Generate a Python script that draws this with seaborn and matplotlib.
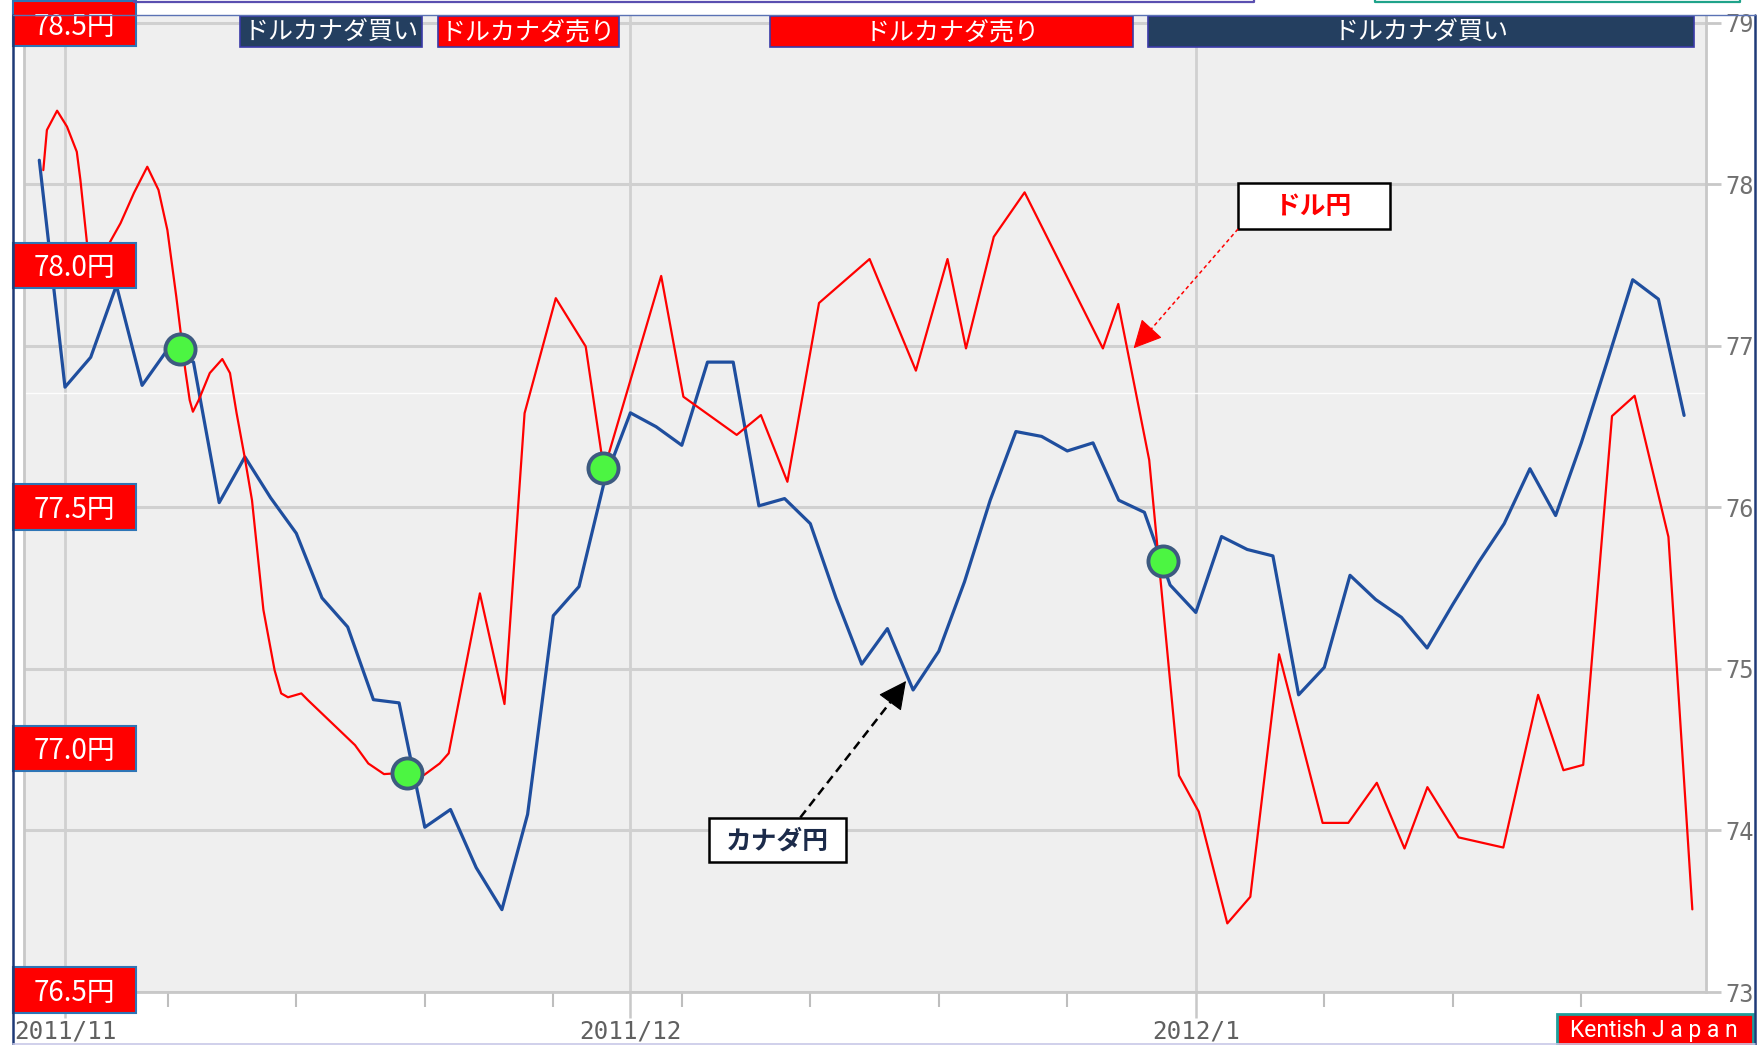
import numpy as np
import pandas as pd
import matplotlib
matplotlib.use("Agg")
import matplotlib.pyplot as plt
import matplotlib.transforms as mtransforms
from matplotlib.patches import Rectangle, FancyArrowPatch
from matplotlib.lines import Line2D
import seaborn as sns

# ---------------- data ----------------
# x = trading-day index (0 = 2011/11/01, 22 = 2011/12/01, 44 = 2012/01/02)
cad_x = list(range(-1, 64))
cad_jpy = [78.15, 76.745, 76.93, 77.375, 76.756, 76.98, 76.90, 76.03, 76.313, 76.06,
           75.84, 75.44, 75.26, 74.81, 74.79, 74.02, 74.13, 73.77, 73.51, 74.10,
           75.33, 75.51, 76.17, 76.586, 76.50, 76.385, 76.90, 76.90, 76.01, 76.055,
           75.90, 75.44, 75.03, 75.25, 74.87, 75.11, 75.54, 76.045, 76.47, 76.44,
           76.35, 76.40, 76.045, 75.97, 75.52, 75.35, 75.82, 75.74, 75.70, 74.84,
           75.01, 75.58, 75.43, 75.32, 75.13, 75.40, 75.66, 75.90, 76.24, 75.95,
           76.40, 76.90, 77.41, 77.29, 76.57]

usd_x = [-0.844, -0.704, -0.307, 0.078, 0.459, 0.599, 0.856, 1.245, 1.728, 2.160,
         2.685, 3.202, 3.638, 3.984, 4.331, 4.506, 4.681, 4.852, 4.977, 5.202,
         5.634, 6.121, 6.420, 6.677, 6.988, 7.276, 7.720, 8.156, 8.412, 8.677,
         9.195, 9.455, 11.284, 11.802, 12.412, 13.307, 13.969, 14.580, 14.930, 16.144,
         17.101, 17.883, 19.097, 20.261, 20.97, 23.198, 24.062, 26.136, 27.078, 28.109,
         29.339, 31.307, 33.109, 34.339, 35.058, 36.140, 37.339, 40.385, 40.984, 42.187,
         43.346, 44.117, 45.226, 46.121, 47.241, 48.934, 49.934, 51.043, 52.121, 53.012,
         54.226, 55.965, 57.319, 58.304, 59.074, 60.195, 61.074, 62.39, 63.32]
usd_jpy = [78.197, 78.280, 78.320, 78.287, 78.235, 78.177, 78.046, 77.995, 78.046, 78.087,
           78.150, 78.204, 78.156, 78.073, 77.935, 77.859, 77.783, 77.721, 77.697, 77.721,
           77.777, 77.806, 77.777, 77.694, 77.604, 77.514, 77.287, 77.162, 77.114, 77.106,
           77.114, 77.100, 77.007, 76.969, 76.947, 76.950, 76.945, 76.969, 76.990, 77.321,
           77.092, 77.694, 77.932, 77.832, 77.576, 77.978, 77.728, 77.649, 77.690, 77.552,
           77.922, 78.013, 77.782, 78.013, 77.828, 78.059, 78.151, 77.828, 77.920, 77.597,
           76.944, 76.869, 76.638, 76.693, 77.195, 76.846, 76.846, 76.929, 76.793, 76.920,
           76.816, 76.795, 77.111, 76.955, 76.966, 77.688, 77.730, 77.438, 76.667]

signal_x = [4.47, 13.31, 20.95, 42.72]
signal_usd = [77.826, 76.950, 77.580, 77.389]

period_start = [6.8, 14.5, 27.45, 42.15]
period_end = [13.9, 21.55, 41.55, 63.4]
period_label = ["ドルカナダ買い", "ドルカナダ売り", "ドルカナダ売り", "ドルカナダ買い"]
period_side = ["buy", "sell", "sell", "buy"]

month_ticks = [0, 22, 44]
month_labels = ["2011/11", "2011/12", "2012/1"]
week_ticks = [4, 9, 14, 19, 24, 29, 34, 39, 49, 54, 59]
cad_ticks = [73, 74, 75, 76, 77, 78, 79]
usd_ticks = [78.5, 78.0, 77.5, 77.0, 76.5]

# ---------------- style ----------------
sns.set_theme(style="white")
plt.rcParams['font.family'] = ['Noto Sans CJK JP', 'DejaVu Sans']

W, H = 1760, 1045
fig = plt.figure(figsize=(W / 100, H / 100), dpi=100)
fig.patch.set_facecolor("white")

def fx(px):
    return px / W

def fy(py):
    return 1 - py / H

AL, AR, AT, AB = 24, 1706, 16, 992
ax = fig.add_axes([fx(AL), fy(AB), (AR - AL) / W, (AB - AT) / H])
ax.set_facecolor("#EFEFEF")
ax2 = ax.twinx()
ax2.patch.set_visible(False)

ax.set_xlim(-1.595, 63.852)
ax.set_ylim(73.0, 79.043)
ax2.set_ylim(76.496, 78.516)

# blue: CAD/JPY
sns.lineplot(x=cad_x, y=cad_jpy, ax=ax, color="#1F4E9E", linewidth=2.3,
             estimator=None, sort=False, zorder=3)
ax.axhline(76.711, color="white", lw=1.0, alpha=0.9, zorder=1.5)

# red: USD/JPY
sns.lineplot(x=usd_x, y=usd_jpy, ax=ax2, color="#FF0000", linewidth=1.6,
             estimator=None, sort=False, zorder=3)
sns.scatterplot(x=signal_x, y=signal_usd, ax=ax2, s=470, color="#4CF542",
                edgecolor="#3D5A80", linewidth=2.8, zorder=6)

# axes / ticks
ax.yaxis.tick_right()
ax.set_yticks(cad_ticks)
ax.set_yticklabels([str(t) for t in cad_ticks])
ax.set_xticks(month_ticks)
ax.set_xticklabels(month_labels)
ax.set_xticks(week_ticks, minor=True)
ax.grid(axis="y", which="major", color="#D0D0D0", lw=2.2)
ax.grid(axis="x", which="major", color="#D0D0D0", lw=2.0)
ax.set_axisbelow(True)
ax.tick_params(axis="y", which="major", right=True, left=False, length=11, width=2,
               color="#C8C8C8", pad=3, labelsize=17, labelcolor="#707070")
ax.tick_params(axis="x", which="major", bottom=True, length=19, width=1.8,
               color="#C8C8C8", pad=1, labelsize=17.5, labelcolor="#606060")
ax.tick_params(axis="x", which="minor", bottom=True, length=11, width=1.5,
               color="#BEBEBE")
for lbl in ax.get_xticklabels() + ax.get_yticklabels():
    lbl.set_fontfamily("DejaVu Sans Mono")
ax.set_xlabel("")
ax.set_ylabel("")
ax2.set_ylabel("")
ax2.set_yticks([])
ax2.tick_params(axis="y", right=False, left=False, labelright=False, labelleft=False)
for sp in ["left", "right", "bottom"]:
    ax.spines[sp].set_color("#C8C8C8")
    ax.spines[sp].set_linewidth(2)
ax.spines["top"].set_visible(False)
for sp in ax2.spines.values():
    sp.set_visible(False)

# left red value boxes (USD/JPY scale)
tr_lbl = mtransforms.blended_transform_factory(fig.transFigure, ax2.transData)
px_per_yen = 483.1
box_h = 45.5 / px_per_yen
for v in usd_ticks:
    r = Rectangle((fx(13), v - box_h / 2), (136 - 13) / W, box_h, transform=tr_lbl,
                  facecolor="#FF0000", edgecolor="#2E75B6", lw=1.5, clip_on=False, zorder=20)
    ax2.add_patch(r)
    ax2.text(fx(74.5), v - 3.0 / px_per_yen, f"{v:.1f}円", transform=tr_lbl,
             ha="center", va="center", color="white", fontsize=20,
             clip_on=False, zorder=21)

# top period boxes
tr_top = mtransforms.blended_transform_factory(ax.transData, ax.transAxes)
y0 = (AB - 47) / (AB - AT)
y1 = (AB - 16) / (AB - AT)
for s, e, lab, side in zip(period_start, period_end, period_label, period_side):
    fc = "#243F60" if side == "buy" else "#FF0000"
    r = Rectangle((s, y0), e - s, y1 - y0, transform=tr_top, facecolor=fc,
                  edgecolor="#3A3AA8", lw=1.2, clip_on=False, zorder=20)
    ax2.add_patch(r)
    ax2.text((s + e) / 2, (y0 + y1) / 2 - 1.5 / (AB - AT), lab, transform=tr_top,
             ha="center", va="center", color="white", fontsize=18,
             clip_on=False, zorder=21)

# annotation boxes and arrows (figure pixel layout)
def fig_rect(x0, y0p, x1, y1p, fc, ec, lw, z=22):
    rr = Rectangle((fx(x0), fy(y1p)), (x1 - x0) / W, (y1p - y0p) / H,
                   transform=fig.transFigure, facecolor=fc, edgecolor=ec, lw=lw,
                   clip_on=False, zorder=z)
    ax2.add_patch(rr)

def dashed_arrow(start, base, tip, color, lw, dash):
    ax2.add_line(Line2D([fx(start[0]), fx(base[0])], [fy(start[1]), fy(base[1])],
                        transform=fig.transFigure, color=color, lw=lw,
                        linestyle=(0, dash), zorder=22, clip_on=False))
    head = FancyArrowPatch((fx(base[0]), fy(base[1])), (fx(tip[0]), fy(tip[1])),
                           transform=fig.transFigure,
                           arrowstyle="-|>,head_length=1.0,head_width=0.5",
                           mutation_scale=18, color=color, lw=0.8,
                           shrinkA=0, shrinkB=0, zorder=22, clip_on=False)
    ax2.add_patch(head)

fig_rect(1238, 182.5, 1390, 228.5, "white", "black", 1.8)
ax2.text(fx(1314), fy(207), "ドル円", transform=fig.transFigure, ha="center",
         va="center", color="#FF0000", fontsize=18.5, fontweight="bold", zorder=23)
dashed_arrow((1238, 229), (1150.7, 329.7), (1133.6, 348.3), "#FF0000", 1.1, (2.5, 2))

fig_rect(709, 818, 846, 861.6, "white", "black", 1.8)
ax2.text(fx(777.5), fy(841.5), "カナダ円", transform=fig.transFigure, ha="center",
         va="center", color="#1C2B4A", fontsize=18.5, fontweight="bold", zorder=23)
dashed_arrow((800.3, 817.5), (890.5, 702), (906, 681), "black", 1.8, (3.6, 2.2))

# Kentish Japan badge
fig_rect(1556.6, 1014, 1753, 1047, "#FF0000", "#1E9E9A", 2.0)
ax2.text(fx(1654), fy(1031), "Kentish J a p a n", transform=fig.transFigure,
         ha="center", va="center", color="white", fontsize=16.5, zorder=23,
         family=["Roboto", "DejaVu Sans"])

# outer frame and top remnants
def fig_line(xs, ys, color, lw):
    fig.add_artist(Line2D([fx(x) for x in xs], [fy(y) for y in ys], color=color,
                          lw=lw, transform=fig.transFigure, zorder=30))

fig_line([13, 13], [15, 1045], "#1F3A78", 1.8)
fig_line([1755, 1755], [15, 1045], "#1F3A78", 1.8)
fig_line([13, 1755], [15, 15], "#5A72B4", 1.0)
fig_line([13, 1755], [1043.5, 1043.5], "#C8C8E8", 1.2)
fig_line([134, 134, 1254, 1254], [0, 1.5, 1.5, 0], "#5A4FB0", 1.6)
fig_line([1375, 1375, 1740, 1740], [0, 1.5, 1.5, 0], "#1FA38A", 1.6)

fig.savefig("out.png", dpi=100, facecolor="white")
